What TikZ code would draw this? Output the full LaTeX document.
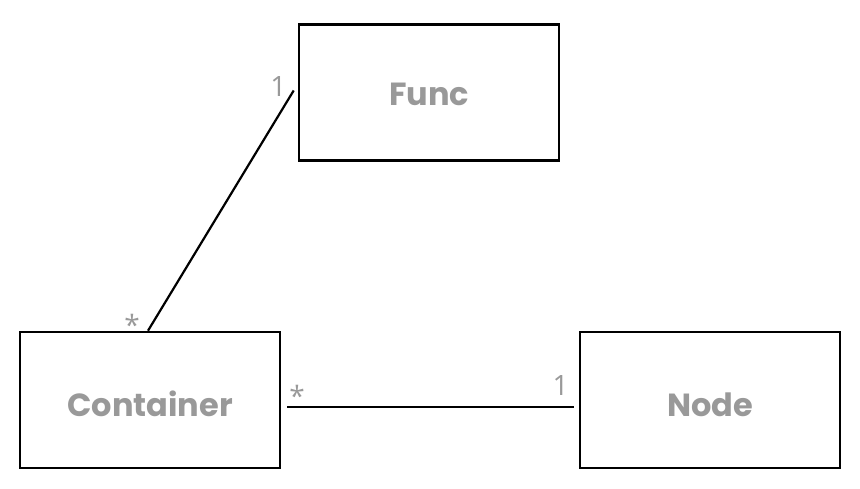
\documentclass[tikz,border=0pt]{standalone}
\usepackage{fontspec}
\setmainfont{Poppins}
\newfontfamily\multfont{Open Sans}
\usetikzlibrary{positioning, calc}

\definecolor{labelgray}{HTML}{999999}

\tikzset{
  classbox/.style={draw=black, line width=2.6pt, minimum width=260pt, minimum height=136pt,
    inner sep=0pt, text depth=0pt, font=\fontsize{32}{34}\selectfont\bfseries, text=labelgray},
  assoc/.style={line width=2.2pt, black},
  mult/.style={font=\multfont\fontsize{28}{30}\selectfont, text=labelgray, inner sep=0pt},
  many/.style={mult, font=\multfont\fontsize{28}{30}\selectfont}
}

\begin{document}
\begin{tikzpicture}[x=1pt, y=-1pt]
  \useasboundingbox (0,0) rectangle (860,488);
  % classes
  \node[classbox, text height=26pt] (func) at (429,92.5) {Func};
  \node[classbox, text height=33pt] (container) at (150,400) {Container};
  \node[classbox, text height=33pt] (node) at (710,400) {Node};
  % associations
  \draw[assoc] ([xshift=-4pt,yshift=2pt]func.west) -- ([xshift=-2pt]container.north);
  \draw[assoc] ([xshift=6pt,yshift=-7pt]container.east) -- ([xshift=-5pt,yshift=-7pt]node.west);
  % multiplicities
  \node[mult] (m1) at (278.5,87) {1};
  \node[many] (m2) at (132,325) {*};
  \node[many] (m3) at (297,396) {*};
  \node[mult] (m4) at (560.5,385) {1};
\end{tikzpicture}
\end{document}
